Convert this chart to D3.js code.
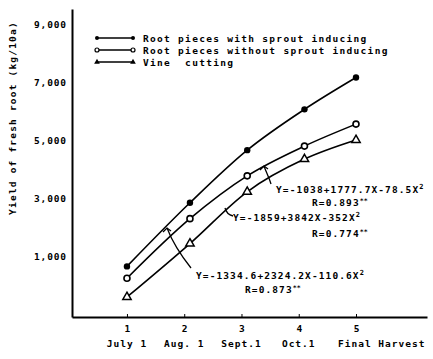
<!DOCTYPE html>
<html>
<head>
<meta charset="utf-8">
<script src="https://cdn.jsdelivr.net/npm/d3@7"></script>
<style>
  body { margin: 0; background: #fff; }
  text { font-family: 'DejaVu Sans Mono', monospace; font-weight: bold; fill: #000; }
</style>
</head>
<body>
<div id="chart"></div>
<script>
// data
const stages = [1, 2, 3, 4, 5];
const stageLabels = ['July 1', 'Aug. 1', 'Sept.1', 'Oct.1', 'Final Harvest'];
const pointX = [1, 2.1, 3.1, 4.1, 5];
const withSprout = [650, 2850, 4670, 6080, 7180];
const withoutSprout = [240, 2300, 3780, 4810, 5570];
const vineCutting = [-410, 1440, 3230, 4360, 5020];
const yTicks = [1000, 3000, 5000, 7000, 9000];
const seriesNames = [
  'Root pieces with sprout inducing',
  'Root pieces without sprout inducing',
  'Vine  cutting'
];

const width = 433, height = 359;
const svg = d3.select('#chart').append('svg')
  .attr('width', width).attr('height', height);

const xScale = d3.scaleLinear().domain([0.04, 6.24]).range([72, 427]);
const yScale = d3.scaleLinear().domain([-1100, 9550]).range([317, 9]);

// axes
const yAxis = svg.append('g')
  .attr('transform', `translate(${xScale(0.04)},0)`)
  .call(d3.axisLeft(yScale).tickValues(yTicks).tickSize(0).tickPadding(5)
    .tickFormat(d3.format(',')));
yAxis.select('.domain').attr('stroke-width', 2);
yAxis.selectAll('text').attr('font-size', 9.5).attr('letter-spacing', 0.9)
  .attr('font-family', 'DejaVu Sans Mono').attr('font-weight', 'bold');

const xAxis = svg.append('g')
  .attr('transform', `translate(0,${yScale(-1100)})`)
  .call(d3.axisBottom(xScale).tickValues(stages).tickSizeInner(-3).tickSizeOuter(0)
    .tickPadding(8).tickFormat(d3.format('d')));
xAxis.select('.domain').attr('stroke-width', 2);
xAxis.selectAll('text').attr('font-size', 9.5)
  .attr('font-family', 'DejaVu Sans Mono').attr('font-weight', 'bold');

// second row of x labels
svg.append('g').selectAll('text')
  .data(stageLabels)
  .enter()
  .append('text')
  .attr('x', (d, i) => i === 4 ? xScale(stages[i]) - 18 : xScale(stages[i]))
  .attr('y', 347)
  .attr('text-anchor', (d, i) => i === 4 ? 'start' : 'middle')
  .attr('font-size', 9.5)
  .attr('letter-spacing', 1)
  .text(d => d);

// y axis title
svg.append('text')
  .attr('transform', 'rotate(-90)')
  .attr('x', -118)
  .attr('y', 16)
  .attr('text-anchor', 'middle')
  .attr('font-size', 9.5)
  .attr('letter-spacing', 1.2)
  .text('Yield of fresh root (kg/10a)');

// lines
const lineFunc = d3.line()
  .x((d, i) => xScale(pointX[i]))
  .y(d => yScale(d))
  .curve(d3.curveMonotoneX);

[withSprout, withoutSprout, vineCutting].forEach(s => {
  svg.append('path')
    .attr('d', lineFunc(s))
    .attr('fill', 'none')
    .attr('stroke', '#000')
    .attr('stroke-width', 1.6);
});

// markers
svg.selectAll('.m1').data(withSprout).enter().append('circle')
  .attr('cx', (d, i) => xScale(pointX[i])).attr('cy', d => yScale(d))
  .attr('r', 3.2).attr('fill', '#000');

svg.selectAll('.m2').data(withoutSprout).enter().append('circle')
  .attr('cx', (d, i) => xScale(pointX[i])).attr('cy', d => yScale(d))
  .attr('r', 3).attr('fill', '#fff').attr('stroke', '#000').attr('stroke-width', 1.6);

const tri = d3.symbol().type(d3.symbolTriangle).size(30);
svg.selectAll('.m3').data(vineCutting).enter().append('path')
  .attr('d', tri)
  .attr('transform', (d, i) => `translate(${xScale(pointX[i])},${yScale(d)})`)
  .attr('fill', '#fff').attr('stroke', '#000').attr('stroke-width', 1.5);

// legend
const legend = svg.append('g');
const legendRows = [38, 50, 62];
seriesNames.forEach((name, i) => {
  const ly = legendRows[i];
  legend.append('line').attr('x1', 97).attr('x2', 133).attr('y1', ly).attr('y2', ly)
    .attr('stroke', '#000').attr('stroke-width', 1.4);
  [97, 133].forEach(lx => {
    if (i === 0) {
      legend.append('circle').attr('cx', lx).attr('cy', ly).attr('r', 2).attr('fill', '#000');
    } else if (i === 1) {
      legend.append('circle').attr('cx', lx).attr('cy', ly).attr('r', 2)
        .attr('fill', '#fff').attr('stroke', '#000').attr('stroke-width', 1.2);
    } else {
      legend.append('path').attr('d', d3.symbol().type(d3.symbolTriangle).size(14))
        .attr('transform', `translate(${lx},${ly})`).attr('fill', '#000');
    }
  });
  legend.append('text').attr('x', 143).attr('y', ly + 3.5)
    .attr('font-size', 9.5).attr('letter-spacing', 1.3)
    .attr('xml:space', 'preserve')
    .text(name);
});

// regression annotations
const annotations = [
  { x: 276, y: 193, eq: 'Y=-1038+1777.7X-78.5X', rx: 312, ry: 206, r: 'R=0.893' },
  { x: 233, y: 221, eq: 'Y=-1859+3842X-352X', rx: 312, ry: 237, r: 'R=0.774' },
  { x: 196, y: 279, eq: 'Y=-1334.6+2324.2X-110.6X', rx: 245, ry: 293, r: 'R=0.873' }
];
annotations.forEach(a => {
  const t = svg.append('text').attr('x', a.x).attr('y', a.y)
    .attr('font-size', 9.5).attr('letter-spacing', 1.1);
  t.append('tspan').text(a.eq);
  t.append('tspan').attr('dy', -4).attr('font-size', 7).text('2');
  const r = svg.append('text').attr('x', a.rx).attr('y', a.ry)
    .attr('font-size', 9.5).attr('letter-spacing', 1.1);
  r.append('tspan').text(a.r);
  r.append('tspan').attr('dy', -3).attr('font-size', 6.5).attr('letter-spacing', 0).text('**');
});

// pointer arrows
const arrows = [
  'M271,184 C269,177 266,172 264,166',
  'M233,216 C229,215 226,212 225,208',
  'M191,268 C183,258 174,246 167,228'
];
arrows.forEach(d => {
  svg.append('path').attr('d', d).attr('fill', 'none')
    .attr('stroke', '#000').attr('stroke-width', 1.3);
});
// arrow heads
[[264, 166], [167, 228]].forEach(p => {
  svg.append('path')
    .attr('d', `M${p[0] - 4},${p[1] + 4} L${p[0]},${p[1]} L${p[0] + 4},${p[1] + 3}`)
    .attr('fill', 'none').attr('stroke', '#000').attr('stroke-width', 1.3);
});
</script>
</body>
</html>
